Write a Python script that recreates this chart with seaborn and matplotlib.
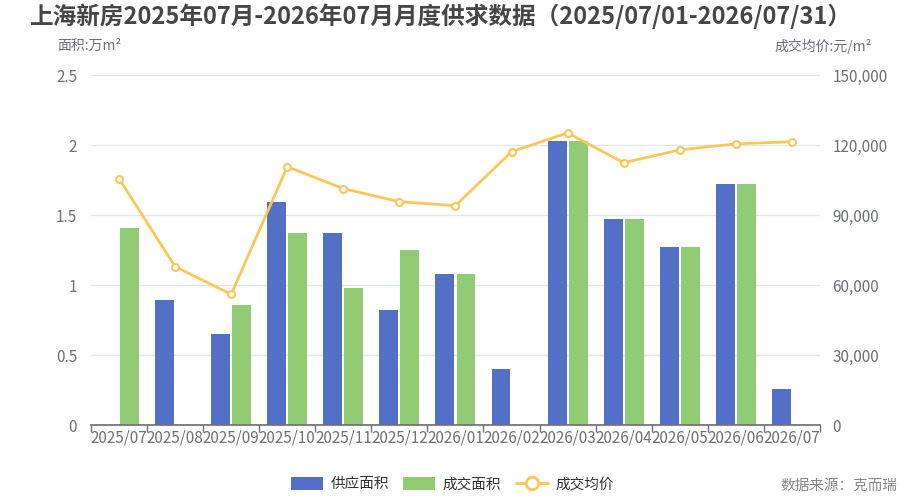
import numpy as np
import pandas as pd
import seaborn as sns
import matplotlib.pyplot as plt
from matplotlib.ticker import FuncFormatter, FixedLocator
from matplotlib.patches import FancyBboxPatch
from matplotlib.lines import Line2D

months = ['2025/07', '2025/08', '2025/09', '2025/10', '2025/11', '2025/12', '2026/01',
          '2026/02', '2026/03', '2026/04', '2026/05', '2026/06', '2026/07']
supply = [0, 0.89, 0.65, 1.59, 1.37, 0.82, 1.08, 0.40, 2.03, 1.47, 1.27, 1.72, 0.26]
deal = [1.41, 0, 0.86, 1.37, 0.98, 1.25, 1.08, 0, 2.03, 1.47, 1.27, 1.72, 0]
price = [105600, 67900, 56000, 110700, 101300, 95700, 94000, 117100, 125200, 112400, 117900, 120500, 121400]
series = ['供应面积', '成交面积']
colors = ['#5470c6', '#91cc75']
line_color = '#fac858'

sns.set_theme(style='white')
plt.rcParams['font.family'] = ['Noto Sans CJK SC', 'DejaVu Sans']
plt.rcParams['axes.unicode_minus'] = False

df = pd.DataFrame({
    'month': months * 2,
    'value': supply + deal,
    'series': [series[0]] * len(months) + [series[1]] * len(months),
})

fig = plt.figure(figsize=(9.1, 5), dpi=100)
ax = fig.add_axes([0.1, 0.15, 0.801, 0.70])

sns.barplot(data=df, x='month', y='value', hue='series', order=months, hue_order=series,
            palette=colors, width=0.75, gap=0.1, saturation=1, ax=ax, legend=False,
            linewidth=0)

ax.set_ylim(0, 2.5)
ax.set_xlim(-0.5, len(months) - 0.5)
ax.set_yticks([0, 0.5, 1, 1.5, 2, 2.5])
ax.yaxis.set_major_formatter(FuncFormatter(lambda v, p: f'{v:g}'))
ax.grid(axis='y', color='#e0e6f1', linewidth=1)
ax.set_axisbelow(True)
ax.set_xlabel('')
ax.set_ylabel('')
for s in ['top', 'right', 'left']:
    ax.spines[s].set_visible(False)
ax.spines['bottom'].set_color('#6e7079')
ax.xaxis.set_minor_locator(FixedLocator(np.arange(-0.5, len(months), 1)))
ax.tick_params(axis='x', which='major', length=0, labelsize=11, colors='#6e7079', pad=3)
ax.tick_params(axis='x', which='minor', length=5, color='#6e7079', bottom=True)
ax.tick_params(axis='y', length=0, labelsize=11, colors='#6e7079', pad=10)

ax2 = ax.twinx()
sns.lineplot(x=np.arange(len(months)), y=price, ax=ax2, color=line_color, linewidth=2,
             marker='o', markersize=5, markerfacecolor='white', markeredgecolor=line_color,
             markeredgewidth=1.5, zorder=5)
ax2.set_ylim(0, 150000)
ax2.set_yticks([0, 30000, 60000, 90000, 120000, 150000])
ax2.yaxis.set_major_formatter(FuncFormatter(lambda v, p: f'{int(v):,}'))
ax2.tick_params(axis='y', length=0, labelsize=11, colors='#6e7079', pad=9)
for s in ['top', 'right', 'left', 'bottom']:
    ax2.spines[s].set_visible(False)
ax2.grid(False)

fig.text(0.033, 0.968, '上海新房2025年07月-2026年07月月度供求数据（2025/07/01-2026/07/31）',
         fontsize=17, fontweight='bold', color='#464646', va='center', ha='left')
fig.text(0.063, 0.908, '面积:万m²', fontsize=10, color='#6e7079', va='center', ha='left')
fig.text(0.958, 0.908, '成交均价:元/m²', fontsize=10, color='#6e7079', va='center', ha='right')

# legend
handles = [
    FancyBboxPatch((0, 0), 1, 1, boxstyle='round,pad=0.1', facecolor=colors[0], edgecolor='none'),
    FancyBboxPatch((0, 0), 1, 1, boxstyle='round,pad=0.1', facecolor=colors[1], edgecolor='none'),
    Line2D([], [], color=line_color, linewidth=2, marker='o', markersize=9,
           markerfacecolor='white', markeredgecolor=line_color, markeredgewidth=2),
]
fig.legend(handles, ['供应面积', '成交面积', '成交均价'], loc='center', bbox_to_anchor=(0.497, 0.032),
           ncol=3, frameon=False, fontsize=10.5, handlelength=2.2, handleheight=1.0,
           columnspacing=1.0, handletextpad=0.5, labelcolor='#333333')
fig.text(0.986, 0.028, '数据来源：克而瑞', fontsize=10.5, color='#888888', va='center', ha='right')

fig.savefig('out.png', dpi=100)
